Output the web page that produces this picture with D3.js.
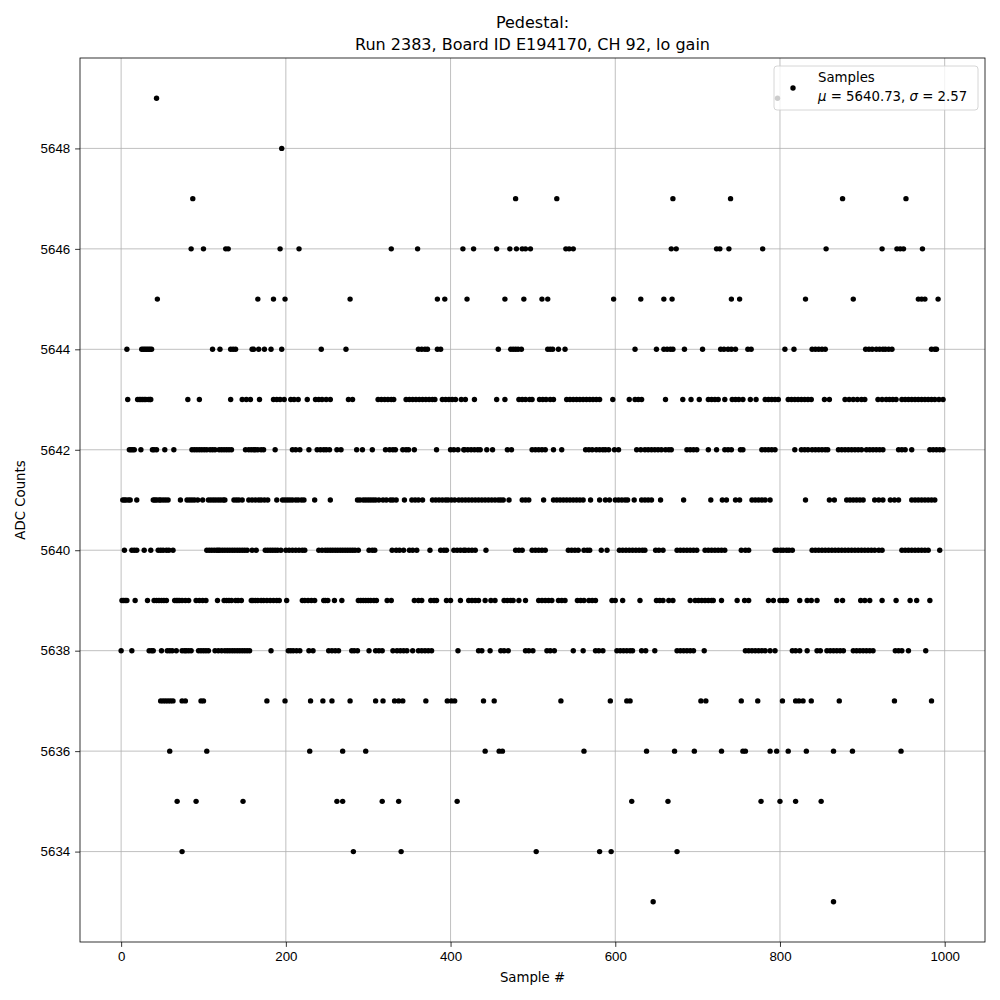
<!DOCTYPE html>
<html>
<head>
<meta charset="utf-8">
<script src="https://cdn.jsdelivr.net/npm/d3@7"></script>
<style>
  body { margin: 0; background: #fff; }
  svg { font-family: "DejaVu Sans", sans-serif; }
  .grid line { stroke: #b0b0b0; stroke-width: 0.8; }
  .tick text { font-size: 13.3px; fill: #000; }
</style>
</head>
<body>
<svg class="chart"></svg>
<script>
// sample numbers, one list per ADC level
const s5649 = [43, 797];
const s5648 = [195];
const s5647 = [87, 479, 529, 670, 740, 876, 953];
const s5646 = [85, 100, 127, 130, 193, 216, 328, 360, 415, 428, 456, 472, 480, 487, 491, 497, 540, 544, 549, 668, 674, 723, 727, 738, 779, 856, 924, 942, 946, 950, 973];
const s5645 = [44, 166, 185, 199, 278, 384, 393, 420, 466, 489, 511, 518, 598, 631, 659, 669, 741, 751, 831, 889, 968, 972, 976, 992];
const s5644 = [7, 25, 27, 29, 31, 33, 35, 37, 111, 120, 133, 136, 139, 159, 161, 167, 174, 182, 195, 243, 273, 361, 365, 369, 372, 384, 388, 458, 473, 476, 479, 482, 486, 518, 521, 524, 531, 539, 624, 650, 659, 663, 667, 670, 684, 706, 728, 732, 737, 741, 746, 761, 765, 806, 817, 839, 843, 847, 851, 855, 904, 908, 912, 917, 921, 925, 928, 932, 936, 984, 988, 990];
const s5643 = [8, 20, 22, 24, 26, 28, 30, 33, 35, 36, 81, 95, 133, 147, 152, 157, 168, 185, 189, 193, 198, 206, 210, 215, 226, 236, 240, 244, 249, 254, 276, 281, 312, 316, 320, 324, 328, 331, 346, 350, 354, 358, 362, 366, 370, 374, 378, 381, 390, 394, 398, 402, 406, 413, 418, 429, 456, 466, 483, 487, 491, 496, 499, 508, 512, 516, 521, 525, 541, 545, 549, 553, 557, 561, 565, 569, 573, 577, 581, 597, 617, 624, 628, 632, 661, 682, 692, 702, 713, 717, 721, 725, 733, 742, 746, 750, 755, 764, 771, 782, 786, 790, 794, 798, 810, 814, 818, 822, 826, 830, 834, 838, 854, 860, 879, 884, 889, 894, 899, 903, 919, 924, 929, 933, 937, 941, 948, 952, 956, 960, 964, 968, 972, 976, 980, 984, 988, 993, 998];
const s5642 = [10, 12, 14, 16, 24, 38, 40, 43, 53, 64, 86, 89, 92, 95, 98, 101, 104, 108, 111, 114, 119, 122, 125, 128, 131, 134, 151, 155, 158, 161, 163, 166, 170, 173, 187, 208, 212, 217, 228, 238, 242, 246, 249, 253, 262, 267, 286, 293, 305, 321, 326, 330, 333, 342, 346, 349, 356, 383, 400, 404, 409, 416, 417, 421, 425, 429, 433, 436, 444, 451, 469, 474, 499, 503, 507, 511, 515, 525, 535, 564, 568, 572, 577, 581, 585, 588, 592, 599, 604, 626, 631, 636, 640, 644, 648, 652, 656, 661, 665, 668, 687, 691, 695, 699, 713, 723, 733, 737, 741, 752, 755, 778, 782, 786, 790, 794, 818, 826, 830, 834, 839, 843, 847, 851, 855, 858, 871, 875, 879, 883, 887, 891, 895, 899, 905, 909, 913, 917, 921, 925, 944, 948, 952, 960, 982, 986, 990, 994, 998];
const s5641 = [2, 4, 6, 9, 11, 19, 39, 41, 43, 46, 48, 51, 54, 57, 72, 80, 83, 86, 89, 93, 99, 106, 109, 112, 115, 118, 121, 124, 126, 137, 140, 143, 147, 155, 159, 163, 167, 170, 174, 178, 189, 196, 199, 202, 205, 208, 212, 215, 219, 222, 235, 254, 287, 290, 294, 297, 300, 303, 306, 309, 313, 318, 322, 327, 330, 334, 344, 353, 357, 361, 366, 378, 382, 386, 390, 394, 397, 401, 405, 410, 414, 418, 422, 426, 430, 434, 438, 442, 446, 450, 454, 458, 461, 464, 471, 487, 491, 495, 513, 525, 529, 533, 537, 541, 545, 549, 553, 557, 561, 570, 581, 588, 593, 600, 604, 608, 612, 615, 623, 632, 636, 640, 644, 655, 683, 716, 730, 735, 746, 751, 766, 770, 774, 778, 782, 788, 831, 860, 866, 881, 885, 889, 893, 897, 901, 915, 920, 925, 934, 939, 944, 960, 964, 968, 972, 976, 980, 984, 988];
const s5640 = [4, 13, 16, 19, 28, 36, 45, 48, 51, 55, 58, 63, 104, 107, 110, 113, 116, 118, 120, 123, 126, 129, 132, 135, 138, 141, 144, 147, 150, 153, 159, 164, 175, 178, 181, 184, 187, 190, 194, 200, 204, 208, 212, 216, 220, 223, 240, 244, 248, 251, 254, 257, 260, 263, 266, 269, 272, 275, 278, 281, 284, 288, 301, 305, 308, 329, 334, 338, 343, 350, 354, 359, 375, 388, 392, 395, 404, 408, 412, 416, 418, 422, 426, 430, 443, 479, 483, 487, 499, 503, 507, 511, 515, 543, 547, 551, 555, 562, 566, 569, 583, 590, 605, 609, 613, 617, 621, 625, 629, 633, 636, 649, 653, 658, 675, 679, 683, 687, 691, 695, 699, 709, 713, 717, 721, 725, 729, 733, 753, 758, 762, 794, 797, 801, 804, 808, 811, 815, 839, 843, 847, 851, 855, 859, 863, 867, 871, 875, 879, 883, 887, 891, 895, 899, 903, 907, 911, 915, 920, 924, 948, 952, 956, 960, 964, 968, 972, 976, 980, 994];
const s5639 = [1, 3, 5, 7, 17, 32, 40, 43, 46, 49, 52, 55, 65, 67, 69, 71, 74, 78, 82, 91, 95, 99, 103, 117, 125, 128, 131, 134, 139, 142, 146, 158, 160, 163, 166, 170, 173, 177, 181, 185, 189, 192, 201, 220, 223, 227, 231, 235, 246, 248, 251, 259, 268, 288, 291, 294, 297, 300, 303, 307, 310, 323, 328, 356, 361, 365, 376, 380, 383, 395, 400, 412, 422, 426, 430, 434, 442, 449, 454, 465, 469, 473, 476, 483, 491, 507, 511, 515, 519, 523, 531, 535, 539, 554, 558, 562, 568, 572, 576, 596, 600, 609, 630, 650, 654, 658, 665, 670, 691, 697, 701, 705, 709, 713, 717, 719, 729, 748, 757, 762, 786, 792, 800, 804, 808, 824, 833, 838, 845, 869, 876, 898, 903, 909, 924, 941, 958, 966, 982];
const s5638 = [0, 13, 34, 37, 39, 49, 56, 59, 62, 67, 74, 77, 79, 82, 85, 94, 97, 100, 103, 106, 114, 118, 122, 126, 129, 132, 135, 138, 141, 144, 147, 150, 153, 156, 182, 203, 206, 209, 213, 217, 228, 233, 252, 256, 260, 264, 280, 283, 287, 301, 309, 313, 317, 330, 335, 339, 343, 347, 354, 361, 365, 369, 373, 377, 409, 434, 438, 448, 461, 465, 470, 491, 495, 500, 517, 521, 526, 549, 561, 576, 580, 585, 602, 606, 610, 614, 618, 621, 632, 637, 648, 675, 679, 683, 687, 691, 695, 708, 758, 762, 766, 770, 774, 778, 782, 788, 794, 815, 819, 824, 833, 845, 849, 857, 861, 865, 869, 873, 877, 889, 893, 897, 901, 905, 909, 913, 940, 944, 948, 956, 977];
const s5637 = [48, 51, 54, 57, 60, 63, 74, 78, 97, 100, 177, 199, 230, 245, 256, 278, 309, 318, 332, 337, 342, 370, 396, 401, 405, 440, 453, 534, 594, 614, 618, 704, 710, 753, 773, 803, 819, 823, 828, 838, 872, 939, 984];
const s5636 = [59, 104, 229, 269, 297, 442, 459, 463, 562, 638, 672, 696, 729, 755, 758, 788, 796, 810, 832, 865, 888, 947];
const s5635 = [68, 91, 148, 262, 269, 317, 337, 408, 620, 664, 777, 800, 819, 850];
const s5634 = [74, 282, 340, 504, 581, 595, 675];
const s5633 = [646, 865];

const xTicks = [0, 200, 400, 600, 800, 1000];
const yTicks = [5634, 5636, 5638, 5640, 5642, 5644, 5646, 5648];

const byLevel = [
  [5633, s5633], [5634, s5634], [5635, s5635], [5636, s5636], [5637, s5637],
  [5638, s5638], [5639, s5639], [5640, s5640], [5641, s5641], [5642, s5642],
  [5643, s5643], [5644, s5644], [5645, s5645], [5646, s5646], [5647, s5647],
  [5648, s5648], [5649, s5649]
];
const points = [];
byLevel.forEach(([v, list]) => list.forEach(i => points.push({i, v})));

const W = 1000, H = 1000;
const margin = {left: 80, right: 15, top: 58, bottom: 58};

const svg = d3.select('.chart')
  .attr('width', W)
  .attr('height', H);

// matplotlib style 5% padding around the data
const x = d3.scaleLinear().domain([-49.95, 1048.95]).range([margin.left, W - margin.right]);
const y = d3.scaleLinear().domain([5632.2, 5649.8]).range([H - margin.bottom, margin.top]);

const g = svg.append('g');

// grid
g.append('g').attr('class', 'grid')
  .selectAll('line').data(xTicks).enter().append('line')
  .attr('x1', d => x(d)).attr('x2', d => x(d))
  .attr('y1', y.range()[0]).attr('y2', y.range()[1]);
g.append('g').attr('class', 'grid')
  .selectAll('line').data(yTicks).enter().append('line')
  .attr('y1', d => y(d)).attr('y2', d => y(d))
  .attr('x1', x.range()[0]).attr('x2', x.range()[1]);

// samples
g.append('g')
  .selectAll('circle').data(points).enter().append('circle')
  .attr('cx', d => x(d.i))
  .attr('cy', d => y(d.v))
  .attr('r', 2.7)
  .attr('fill', '#000');

// axes
const xAxis = d3.axisBottom(x).tickValues(xTicks).tickFormat(d3.format('d'))
  .tickSize(4.9).tickPadding(4.9).tickSizeOuter(0);
const yAxis = d3.axisLeft(y).tickValues(yTicks).tickFormat(d3.format('d'))
  .tickSize(4.9).tickPadding(4.9).tickSizeOuter(0);

svg.append('g')
  .attr('transform', `translate(0,${H - margin.bottom})`)
  .call(xAxis)
  .call(a => a.select('.domain').remove());
svg.append('g')
  .attr('transform', `translate(${margin.left},0)`)
  .call(yAxis)
  .call(a => a.select('.domain').remove());

svg.selectAll('.tick line').attr('stroke', '#000').attr('stroke-width', 0.8);

// frame
svg.append('rect')
  .attr('x', margin.left).attr('y', margin.top)
  .attr('width', W - margin.left - margin.right)
  .attr('height', H - margin.top - margin.bottom)
  .attr('fill', 'none').attr('stroke', '#000').attr('stroke-width', 0.8);

// titles
const cx = (margin.left + W - margin.right) / 2;
svg.append('text').attr('x', cx).attr('y', 28).attr('text-anchor', 'middle')
  .attr('font-size', 16).text('Pedestal:');
svg.append('text').attr('x', cx).attr('y', 50).attr('text-anchor', 'middle')
  .attr('font-size', 16).text('Run 2383, Board ID E194170, CH 92, lo gain');

svg.append('text').attr('x', cx).attr('y', 982).attr('text-anchor', 'middle')
  .attr('font-size', 13.3).text('Sample #');
svg.append('text')
  .attr('transform', `translate(25,${(margin.top + H - margin.bottom) / 2}) rotate(-90)`)
  .attr('text-anchor', 'middle').attr('font-size', 13.3).text('ADC Counts');

// legend
const lg = svg.append('g').attr('transform', 'translate(774,66)');
lg.append('rect')
  .attr('width', 204).attr('height', 44).attr('rx', 3)
  .attr('fill', '#fff').attr('fill-opacity', 0.8)
  .attr('stroke', '#ccc').attr('stroke-width', 0.8);
lg.append('circle').attr('cx', 19).attr('cy', 22).attr('r', 2.7).attr('fill', '#000');
lg.append('text').attr('x', 44).attr('y', 16).attr('font-size', 13.3).text('Samples');
const t2 = lg.append('text').attr('x', 44).attr('y', 35).attr('font-size', 13.3);
t2.append('tspan').attr('font-style', 'italic').text('μ');
t2.append('tspan').text(' = 5640.73, ');
t2.append('tspan').attr('font-style', 'italic').text('σ');
t2.append('tspan').text(' = 2.57');
</script>
</body>
</html>
